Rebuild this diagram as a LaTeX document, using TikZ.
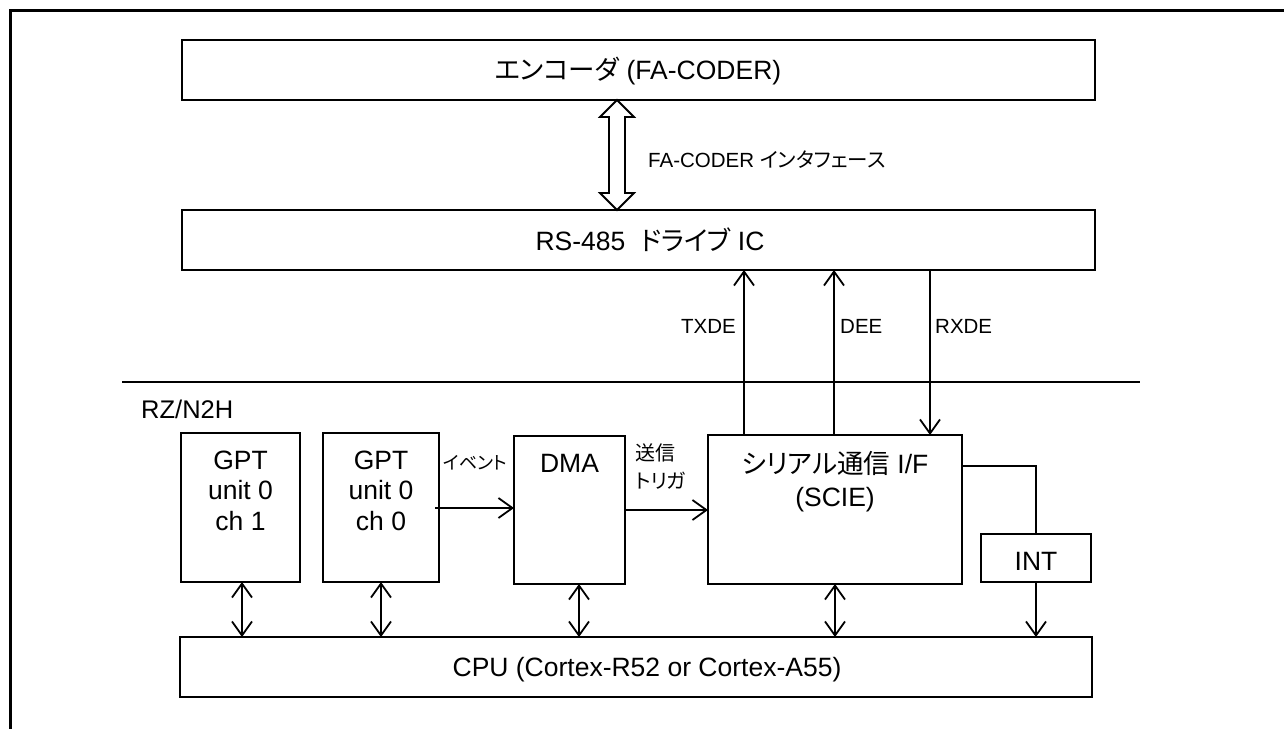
\documentclass[tikz,border=0pt]{standalone}
\usepackage{fontspec}
\setmainfont{Liberation Sans}
\newfontfamily\jp{Noto Sans CJK JP}[RawFeature=+palt]
\usetikzlibrary{arrows.meta}
\begin{document}
\begin{tikzpicture}[x=1pt,y=-1pt,
  blk/.style={draw, line width=1.8pt, inner sep=0pt, outer sep=0pt, anchor=north west},
  big/.style={font=\fontsize{26.5}{30.5}\selectfont, inner sep=0pt},
  lbl/.style={font=\fontsize{20.5}{24}\selectfont, inner sep=0pt},
  jlbl/.style={font=\fontsize{18}{28}\jp, inner sep=0pt},
  conn/.style={line width=1.8pt},
  tip/.style={-{Straight Barb[length=14pt,width=20pt]}},
  dbl/.style={{Straight Barb[length=14pt,width=20pt]}-{Straight Barb[length=14pt,width=20pt]}}]
\useasboundingbox (0,0) rectangle (1284,729);
% outer frame (top and left only)
\draw[line width=3pt] (1284,10.5) -- (10.5,10.5) -- (10.5,729);
% boxes
\node[blk, line width=2.2pt, minimum width=913pt, minimum height=60pt] (enc) at (182,40) {};
\node[blk, minimum width=913pt, minimum height=60pt] (rs) at (182,210) {};
\node[blk, minimum width=119pt, minimum height=149pt] (gpt1) at (181,433) {};
\node[blk, minimum width=116pt, minimum height=149pt] (gpt0) at (323,433) {};
\node[blk, minimum width=111pt, minimum height=148pt] (dma) at (514,436) {};
\node[blk, minimum width=254pt, minimum height=149pt] (scie) at (708,435) {};
\node[blk, minimum width=110pt, minimum height=48pt] (int) at (981,534) {};
\node[blk, minimum width=912pt, minimum height=60pt] (cpu) at (180,637) {};
% texts
\node[big, anchor=base] (enct) at (638,79) {{\jp エンコーダ} (FA-CODER)};
\node[big, anchor=base] (rst) at (650,250) {RS-485\ \ {\jp ドライブ} IC};
\node[lbl, anchor=base west] (fal) at (648,167) {FA-CODER {\jp インタフェース}};
\node[lbl, anchor=base east] (txl) at (736,333) {TXDE};
\node[lbl, anchor=base west] (del) at (840,333) {DEE};
\node[lbl, anchor=base west] (rxl) at (935,333) {RXDE};
\node[big, font=\fontsize{25.5}{30}\selectfont, anchor=base west] (rzl) at (141,418) {RZ/N2H};
\node[big, anchor=base, align=center] (g1t) at (240.5,530) {GPT\\unit 0\\ch 1};
\node[big, anchor=base, align=center] (g0t) at (381,530) {GPT\\unit 0\\ch 0};
\node[big, anchor=base] (dmat) at (569.5,472) {DMA};
\node[big, anchor=base, align=center, font=\fontsize{26.5}{33}\selectfont] (sciet) at (835,506) {{\jp シリアル通信} I/F\\(SCIE)};
\node[big, anchor=base] (intt) at (1036,570) {INT};
\node[big, anchor=base] (cput) at (647,676) {CPU (Cortex-R52 or Cortex-A55)};
\node[jlbl, anchor=base west] (evl) at (443,469) {イベント};
\node[jlbl, font=\fontsize{20}{28}\jp, anchor=base west, align=left] (trl) at (635,488) {送信\\トリガ};
% separator line
\draw[line width=1.8pt] (122,382) -- (1140,382);
% fat double arrow (FA-CODER interface)
\coordinate (fa) at (617,0);
\draw[line width=1.8pt, fill=white, line join=miter] (enc.south -| fa) -- ++(17,17) -- ++(-9,0) -- ++(0,76) -- ++(9,0) -- ++(-17,17) -- ++(-17,-17) -- ++(9,0) -- ++(0,-76) -- ++(-9,0) -- cycle;
% signals between SCIE and RS-485
\coordinate (xtx) at (744,0);
\coordinate (xde) at (834,0);
\coordinate (xrx) at (930,0);
\draw[conn,tip] (scie.north -| xtx) -- (rs.south -| xtx);
\draw[conn,tip] (scie.north -| xde) -- (rs.south -| xde);
\draw[conn,tip] (rs.south -| xrx) -- (scie.north -| xrx);
% event and trigger
\coordinate (ev) at (435,508);
\coordinate (tr) at (0,510);
\draw[conn,tip] (ev) -- (ev -| dma.west);
\draw[conn,tip] (dma.east |- tr) -- (scie.west |- tr);
% interrupt path
\coordinate (ia) at (0,466);
\draw[conn] (scie.east |- ia) -| (int.north);
\draw[conn,tip] (int.south) -- (int.south |- cpu.north);
% bus connections to CPU
\coordinate (xdma) at (579,0);
\draw[conn,dbl] (gpt1.south -| 242,0) -- (cpu.north -| 242,0);
\draw[conn,dbl] (gpt0.south) -- (gpt0.south |- cpu.north);
\draw[conn,dbl] (dma.south -| xdma) -- (cpu.north -| xdma);
\draw[conn,dbl] (scie.south) -- (scie.south |- cpu.north);
\end{tikzpicture}
\end{document}
